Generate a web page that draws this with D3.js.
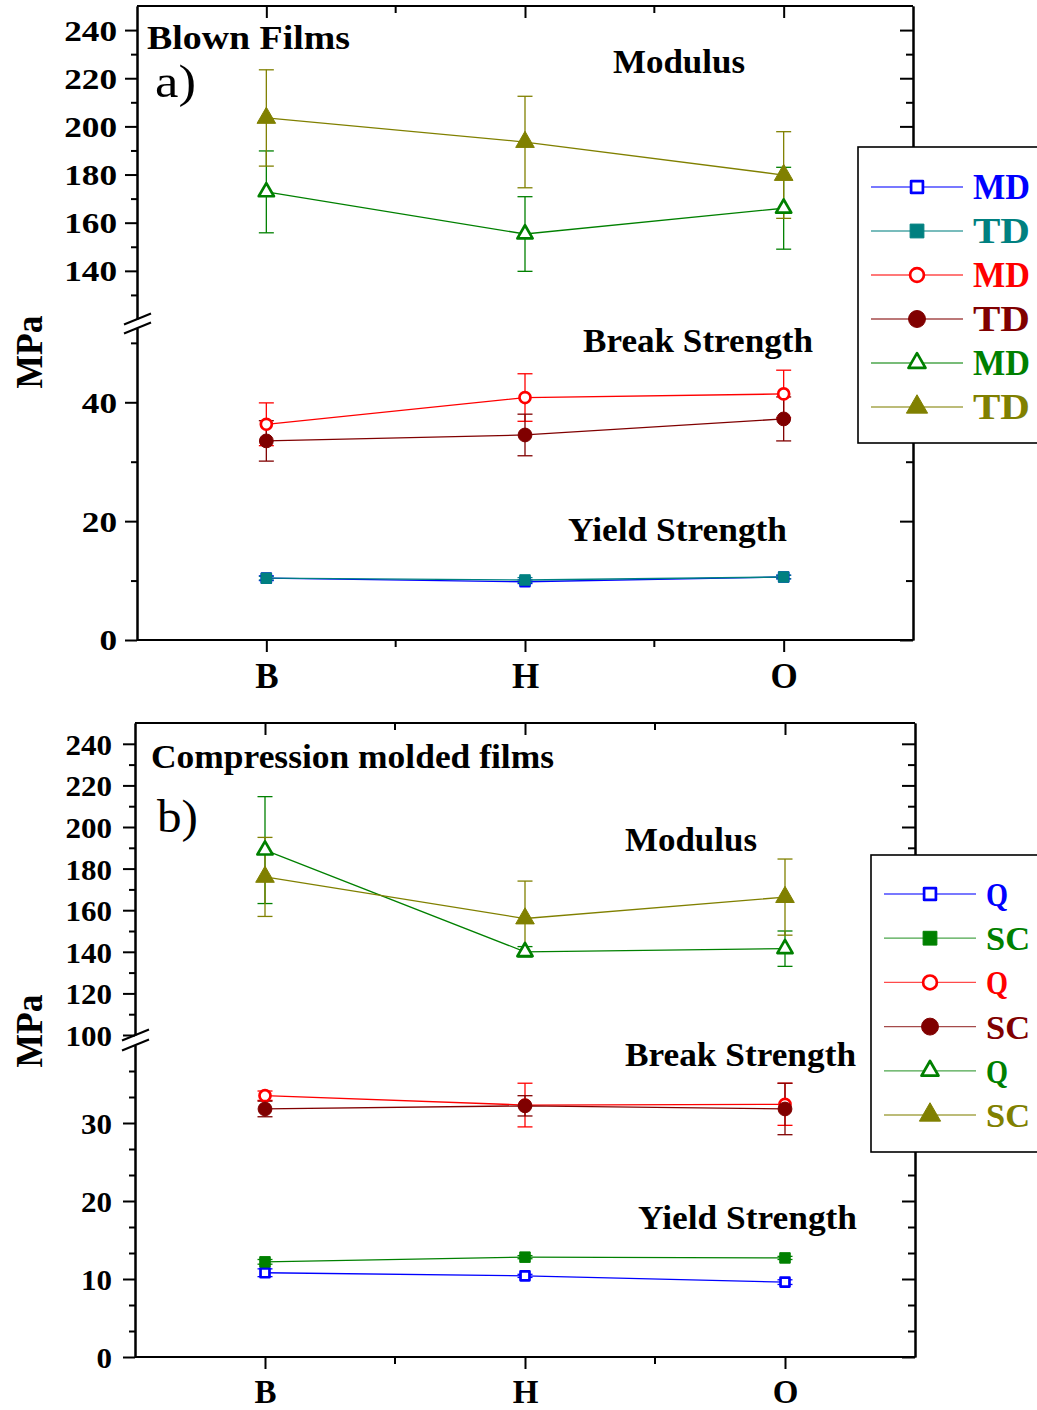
<!DOCTYPE html>
<html>
<head>
<meta charset="utf-8">
<script src="https://cdnjs.cloudflare.com/ajax/libs/d3/7.8.5/d3.min.js"></script>
<style>
body { margin: 0; background: #fff; }
text { font-family: "Liberation Serif", "Times New Roman", serif; font-weight: bold; }
</style>
</head>
<body>
<div id="chart"></div>
<script>
// categories on the x axis
const categories = ["B", "H", "O"];

// a) blown films (MPa)
const blownYieldMD = [10.4, 9.8, 10.6];
const blownYieldMDErr = [0.4, 0.3, 0.3];
const blownYieldTD = [10.4, 10.1, 10.6];
const blownYieldTDErr = [0.3, 0.4, 0.3];
const blownBreakMD = [36.3, 40.8, 41.4];
const blownBreakMDErr = [3.6, 4.0, 4.0];
const blownBreakTD = [33.5, 34.5, 37.2];
const blownBreakTDErr = [3.4, 3.5, 3.7];
const blownModMD = [172.8, 155.3, 166.0];
const blownModMDErr = [17.0, 15.5, 17.0];
const blownModTD = [203.5, 193.5, 179.8];
const blownModTDErr = [20.0, 19.0, 18.0];
const blownLegend = ["MD", "TD", "MD", "TD", "MD", "TD"];

// b) compression molded films (MPa)
const cmYieldQ = [10.8, 10.4, 9.6];
const cmYieldQErr = [0.5, 0.2, 0.3];
const cmYieldSC = [12.2, 12.8, 12.7];
const cmYieldSCErr = [0.3, 0.2, 0.2];
const cmBreakQ = [33.5, 32.3, 32.4];
const cmBreakQErr = [0.6, 2.8, 2.7];
const cmBreakSC = [31.8, 32.2, 31.8];
const cmBreakSCErr = [1.0, 1.3, 3.3];
const cmModQ = [188.9, 140.0, 141.5];
const cmModQErr = [25.7, 2.5, 8.5];
const cmModSC = [176.0, 156.0, 166.3];
const cmModSCErr = [19.0, 18.0, 18.3];
const cmLegend = ["Q", "SC", "Q", "SC", "Q", "SC"];

// tick values
const blownUpMajor = [140, 160, 180, 200, 220, 240];
const blownUpMinor = [130, 150, 170, 190, 210, 230];
const blownLoMajor = [0, 20, 40];
const blownLoMinor = [10, 30, 50];
const cmUpMajor = [100, 120, 140, 160, 180, 200, 220, 240];
const cmUpMinor = [110, 130, 150, 170, 190, 210, 230];
const cmLoMajor = [0, 10, 20, 30];
const cmLoMinor = [10 / 3, 20 / 3, 40 / 3, 50 / 3, 70 / 3, 80 / 3, 100 / 3, 110 / 3];

var svg = d3.select("#chart").append("svg")
    .attr("width", 1037)
    .attr("height", 1410);

function marker(shape, filled, color, big) {
    var sizes = filled ? { square: 110, circle: 150, triangle: 150 } : { square: 80, circle: 95, triangle: 100 };
    if (big) sizes = filled ? { square: 190, circle: 225, triangle: 195 } : { square: 140, circle: 150, triangle: 125 };
    var types = { square: d3.symbolSquare, circle: d3.symbolCircle, triangle: d3.symbolTriangle };
    return {
        d: d3.symbol().type(types[shape]).size(sizes[shape])(),
        fill: filled ? color : "#fff",
        stroke: color,
        sw: filled ? 1 : 2.7
    };
}

function addText(g, str, x, y, size, width, weight) {
    var t = g.append("text")
        .attr("x", x)
        .attr("y", y)
        .attr("font-size", size)
        .text(str);
    if (width) t.attr("textLength", width).attr("lengthAdjust", "spacingAndGlyphs");
    if (weight) t.style("font-weight", weight);
    return t;
}

function drawPanel(p) {
    var g = svg.append("g");

    var x = d3.scalePoint().domain(categories).range([p.left, p.right]).padding(0.5);
    var step = x.step();
    var yUp = d3.scaleLinear().domain(p.upDomain).range(p.upRange);
    var yLo = d3.scaleLinear().domain(p.loDomain).range(p.loRange);
    var scales = { up: yUp, lo: yLo };

    // left axis, two segments with labels
    [[yUp, p.upMajor, p.upMinor], [yLo, p.loMajor, p.loMinor]].forEach(function (s) {
        var ax = g.append("g")
            .attr("transform", `translate(${p.left},0)`)
            .call(d3.axisLeft(s[0]).tickValues(s[1]).tickSize(12).tickSizeOuter(0)
                .tickPadding(p.tickPad).tickFormat(d3.format("d")));
        ax.selectAll("path, line").attr("stroke-width", 2);
        ax.selectAll("text")
            .attr("font-size", p.tickFont)
            .attr("dy", "0.35em")
            .attr("font-family", "Liberation Serif, serif")
            .attr("textLength", d => String(d).length * p.digitW)
            .attr("lengthAdjust", "spacingAndGlyphs");
        var mn = g.append("g")
            .attr("transform", `translate(${p.left},0)`)
            .call(d3.axisLeft(s[0]).tickValues(s[2]).tickSize(6).tickSizeOuter(0).tickFormat(""));
        mn.selectAll("path, line").attr("stroke-width", 2);

        // right axis, ticks inward
        var r1 = g.append("g")
            .attr("transform", `translate(${p.right},0)`)
            .call(d3.axisLeft(s[0]).tickValues(s[1]).tickSize(13).tickSizeOuter(0).tickFormat(""));
        var r2 = g.append("g")
            .attr("transform", `translate(${p.right},0)`)
            .call(d3.axisLeft(s[0]).tickValues(s[2]).tickSize(7).tickSizeOuter(0).tickFormat(""));
        r1.selectAll("path, line").attr("stroke-width", 2);
        r2.selectAll("path, line").attr("stroke-width", 2);
    });

    // axis break marks
    [p.upRange[0], p.loRange[1]].forEach(function (yb) {
        g.append("line")
            .attr("x1", p.left - 13).attr("y1", yb + 5.5)
            .attr("x2", p.left + 14).attr("y2", yb - 5.5)
            .attr("stroke", "#000").attr("stroke-width", 2);
    });

    // bottom axis with labels, ticks outward
    var bx = g.append("g")
        .attr("transform", `translate(0,${p.bottom})`)
        .call(d3.axisBottom(x).tickSize(12).tickSizeOuter(0).tickPadding(p.xPad));
    bx.select(".domain").attr("d", `M${p.left},0H${p.right}`);
    bx.selectAll("path, line").attr("stroke-width", 2);
    bx.selectAll("text")
        .attr("font-size", p.xFont)
        .attr("font-family", "Liberation Serif, serif");

    // top axis, ticks inward
    var tx = g.append("g")
        .attr("transform", `translate(0,${p.top})`)
        .call(d3.axisTop(x).tickSize(-12).tickSizeOuter(0).tickFormat(""));
    tx.select(".domain").attr("d", `M${p.left},0H${p.right}`);
    tx.selectAll("path, line").attr("stroke-width", 2);

    // minor x ticks halfway between categories
    var mids = categories.slice(0, -1).map(c => x(c) + step / 2);
    g.selectAll(".xminor-b").data(mids).enter().append("line")
        .attr("x1", d => d).attr("x2", d => d)
        .attr("y1", p.bottom).attr("y2", p.bottom + 7)
        .attr("stroke", "#000").attr("stroke-width", 2);
    g.selectAll(".xminor-t").data(mids).enter().append("line")
        .attr("x1", d => d).attr("x2", d => d)
        .attr("y1", p.top).attr("y2", p.top + 7)
        .attr("stroke", "#000").attr("stroke-width", 2);

    // series: lines, error bars, markers
    p.series.forEach(function (s) {
        var y = scales[s.seg];
        var pts = s.values.map((v, i) => ({ c: categories[i], v: v, e: s.errs[i] }));

        g.append("path")
            .datum(pts)
            .attr("fill", "none")
            .attr("stroke", s.color)
            .attr("stroke-width", 1.3)
            .attr("d", d3.line().x(d => x(d.c)).y(d => y(d.v)));

        var eb = g.append("g").attr("stroke", s.color).attr("stroke-width", 1.3);
        pts.forEach(function (d) {
            var cx = x(d.c);
            eb.append("line").attr("x1", cx).attr("x2", cx).attr("y1", y(d.v - d.e)).attr("y2", y(d.v + d.e));
            eb.append("line").attr("x1", cx - 7.5).attr("x2", cx + 7.5).attr("y1", y(d.v - d.e)).attr("y2", y(d.v - d.e));
            eb.append("line").attr("x1", cx - 7.5).attr("x2", cx + 7.5).attr("y1", y(d.v + d.e)).attr("y2", y(d.v + d.e));
        });
    });
    p.series.forEach(function (s) {
        var y = scales[s.seg];
        var m = marker(s.shape, s.filled, s.color, false);
        g.selectAll(null).data(s.values).enter().append("path")
            .attr("d", m.d)
            .attr("transform", (v, i) => `translate(${x(categories[i])},${y(v)})`)
            .attr("fill", m.fill)
            .attr("stroke", m.stroke)
            .attr("stroke-width", m.sw)
            .attr("stroke-linejoin", "round");
    });

    // annotations
    p.notes.forEach(function (n) {
        addText(g, n.t, n.x, n.y, n.size, n.w, n.weight);
    });

    // y axis title
    g.append("text")
        .attr("transform", `translate(42,${p.titleY}) rotate(-90)`)
        .attr("text-anchor", "middle")
        .attr("font-size", 38)
        .attr("textLength", 73)
        .attr("lengthAdjust", "spacingAndGlyphs")
        .text("MPa");

    // legend
    var lg = g.append("g");
    lg.append("rect")
        .attr("x", p.leg.x).attr("y", p.leg.y)
        .attr("width", 300).attr("height", p.leg.h)
        .attr("fill", "#fff").attr("stroke", "#000").attr("stroke-width", 1.6);
    p.series.forEach(function (s, i) {
        var ry = p.leg.row0 + i * p.leg.dy;
        lg.append("line")
            .attr("x1", p.leg.x + 13).attr("x2", p.leg.x + 105)
            .attr("y1", ry).attr("y2", ry)
            .attr("stroke", s.color).attr("stroke-width", 1.3).attr("opacity", 0.7);
        var m = marker(s.shape, s.filled, s.color, true);
        lg.append("path")
            .attr("d", m.d)
            .attr("transform", `translate(${p.leg.x + 59},${ry})`)
            .attr("fill", m.fill).attr("stroke", m.stroke).attr("stroke-width", m.sw)
            .attr("stroke-linejoin", "round");
        addText(lg, p.legend[i], p.leg.x + 115, ry + 12, p.leg.font, p.legend[i].length * p.leg.charW)
            .attr("fill", s.color);
    });
}

drawPanel({
    left: 137, right: 913, top: 6, bottom: 640,
    upDomain: [120, 250], upRange: [319, 6],
    loDomain: [0, 52.5], loRange: [640, 328],
    upMajor: blownUpMajor, upMinor: blownUpMinor,
    loMajor: blownLoMajor, loMinor: blownLoMinor,
    tickFont: 28.5, digitW: 17.6, tickPad: 8,
    xFont: 35, xPad: 11, titleY: 352,
    series: [
        { values: blownYieldMD, errs: blownYieldMDErr, seg: "lo", color: "#0000ff", shape: "square", filled: false },
        { values: blownYieldTD, errs: blownYieldTDErr, seg: "lo", color: "#008080", shape: "square", filled: true },
        { values: blownBreakMD, errs: blownBreakMDErr, seg: "lo", color: "#ff0000", shape: "circle", filled: false },
        { values: blownBreakTD, errs: blownBreakTDErr, seg: "lo", color: "#800000", shape: "circle", filled: true },
        { values: blownModMD, errs: blownModMDErr, seg: "up", color: "#008000", shape: "triangle", filled: false },
        { values: blownModTD, errs: blownModTDErr, seg: "up", color: "#808000", shape: "triangle", filled: true }
    ],
    legend: blownLegend,
    leg: { x: 858, y: 147, h: 296, row0: 187, dy: 44, font: 35, charW: 28.5 },
    notes: [
        { t: "Blown Films", x: 147, y: 49, size: 33, w: 203 },
        { t: "a)", x: 155, y: 97, size: 46, w: 41, weight: "normal" },
        { t: "Modulus", x: 613, y: 73, size: 33, w: 132 },
        { t: "Break Strength", x: 583, y: 352, size: 33, w: 230 },
        { t: "Yield Strength", x: 568, y: 541, size: 33, w: 219 }
    ]
});

drawPanel({
    left: 135, right: 915, top: 723, bottom: 1357,
    upDomain: [100, 250], upRange: [1035, 723],
    loDomain: [0, 40], loRange: [1357, 1045],
    upMajor: cmUpMajor, upMinor: cmUpMinor,
    loMajor: cmLoMajor, loMinor: cmLoMinor,
    tickFont: 30, digitW: 15.5, tickPad: 11,
    xFont: 33, xPad: 11, titleY: 1031,
    series: [
        { values: cmYieldQ, errs: cmYieldQErr, seg: "lo", color: "#0000ff", shape: "square", filled: false },
        { values: cmYieldSC, errs: cmYieldSCErr, seg: "lo", color: "#008000", shape: "square", filled: true },
        { values: cmBreakQ, errs: cmBreakQErr, seg: "lo", color: "#ff0000", shape: "circle", filled: false },
        { values: cmBreakSC, errs: cmBreakSCErr, seg: "lo", color: "#800000", shape: "circle", filled: true },
        { values: cmModQ, errs: cmModQErr, seg: "up", color: "#008000", shape: "triangle", filled: false },
        { values: cmModSC, errs: cmModSCErr, seg: "up", color: "#808000", shape: "triangle", filled: true }
    ],
    legend: cmLegend,
    leg: { x: 871, y: 855, h: 297, row0: 894, dy: 44.2, font: 33, charW: 22 },
    notes: [
        { t: "Compression molded films", x: 151, y: 768, size: 33, w: 403 },
        { t: "b)", x: 157, y: 832, size: 46, w: 41, weight: "normal" },
        { t: "Modulus", x: 625, y: 851, size: 33, w: 132 },
        { t: "Break Strength", x: 625, y: 1066, size: 33, w: 231 },
        { t: "Yield Strength", x: 638, y: 1229, size: 33, w: 219 }
    ]
});
</script>
</body>
</html>
